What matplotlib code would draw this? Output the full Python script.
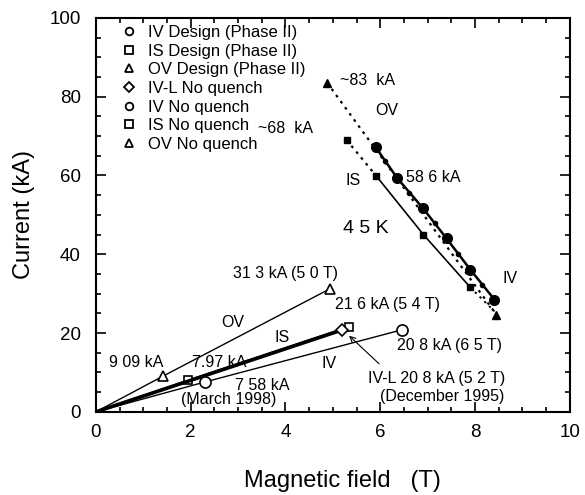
import matplotlib.pyplot as plt
import matplotlib.ticker as ticker

plt.rcParams['font.family'] = ['Liberation Sans', 'DejaVu Sans']

# load lines (from origin)
ov_load_b = [0, 1.42, 4.95]
ov_load_i = [0, 9.09, 31.3]
is_load_b = [0, 1.95, 5.35]
is_load_i = [0, 7.97, 21.6]
ivl_load_b = [0, 5.2]
ivl_load_i = [0, 20.8]
iv_load_b = [0, 2.3, 6.45]
iv_load_i = [0, 7.58, 20.8]

# critical current lines (4.5 K)
ov_crit_b = [4.88, 8.45]
ov_crit_i = [83.5, 24.7]
is_dot_b = [5.29, 5.92]
is_dot_i = [69.0, 59.8]
is_crit_b = [5.92, 6.91, 7.9]
is_crit_i = [59.8, 45.0, 31.6]
is_tail_b = [7.9, 8.41]
is_tail_i = [31.6, 25.5]
iv_crit_b = [5.9, 6.36, 6.9, 7.4, 7.9, 8.41]
iv_crit_i = [67.2, 59.3, 51.7, 44.0, 36.1, 28.5]
iv_mid_b = [6.1, 6.6, 7.15, 7.65, 8.15]
iv_mid_i = [63.6, 55.5, 48.0, 40.0, 32.3]

legend_labels = ['IV Design (Phase II)', 'IS Design (Phase II)', 'OV Design (Phase II)',
                 'IV-L No quench', 'IV No quench', 'IS No quench', 'OV No quench']
legend_markers = ['o', 's', '^', 'D', 'o', 's', '^']

fig = plt.figure(figsize=(5.85, 4.95), dpi=100)
ax = fig.add_axes([0.164, 0.168, 0.81, 0.796])

# load lines
ax.plot(ov_load_b, ov_load_i, color='black', lw=1.0)
ax.plot(ov_load_b[1:], ov_load_i[1:], ls='none', marker='^', ms=7, mfc='white', mec='black', mew=1.2)
ax.plot(is_load_b, is_load_i, color='black', lw=1.6)
ax.plot(is_load_b[1:], is_load_i[1:], ls='none', marker='s', ms=6, mfc='white', mec='black', mew=1.2)
ax.plot(ivl_load_b, ivl_load_i, color='black', lw=2.6)
ax.plot(ivl_load_b[1:], ivl_load_i[1:], ls='none', marker='D', ms=6, mfc='white', mec='black', mew=1.2)
ax.plot(iv_load_b, iv_load_i, color='black', lw=1.0)
ax.plot(iv_load_b[1:], iv_load_i[1:], ls='none', marker='o', ms=8, mfc='white', mec='black', mew=1.2)

# critical current lines
ax.plot(ov_crit_b, ov_crit_i, color='black', lw=1.6, ls=(0, (1.2, 2.2)))
ax.plot(ov_crit_b, ov_crit_i, ls='none', marker='^', ms=6, color='black')
ax.plot(is_dot_b, is_dot_i, color='black', lw=1.6, ls=(0, (1.2, 2.2)))
ax.plot(is_dot_b[:1], is_dot_i[:1], ls='none', marker='s', ms=5, color='black')
ax.plot(is_crit_b, is_crit_i, color='black', lw=1.2, marker='s', ms=5)
ax.plot(is_tail_b, is_tail_i, color='black', lw=1.4, ls=(0, (1.2, 2.2)))
ax.plot(iv_crit_b, iv_crit_i, color='black', lw=1.8, marker='o', ms=7)
ax.plot(iv_mid_b, iv_mid_i, ls='none', marker='o', ms=3, color='black')

# legend
for lab, mk in zip(legend_labels, legend_markers):
    ax.plot([], [], ls='none', marker=mk, ms=5.5, mfc='white', mec='black', mew=1.3, label=lab)
ax.legend(loc='upper left', frameon=False, fontsize=12, handlelength=1.0, handletextpad=0.6,
          labelspacing=0.22, borderaxespad=0, borderpad=0, bbox_to_anchor=(0.053, 0.982))

# annotations
fs = 11.5
ax.text(5.15, 84, '~83  kA', fontsize=fs, va='center')
ax.text(5.9, 76.5, 'OV', fontsize=fs, va='center')
ax.text(4.0, 72, '~68  kA', fontsize=fs, va='center', ha='center')
ax.text(6.55, 59.5, '58 6 kA', fontsize=fs, va='center')
ax.text(5.43, 58.8, 'IS', fontsize=fs, va='center', ha='center')
ax.text(5.7, 46.5, '4 5 K', fontsize=14, va='center', ha='center')
ax.text(8.75, 33.8, 'IV', fontsize=fs, va='center', ha='center')
ax.text(4.0, 35.2, '31 3 kA (5 0 T)', fontsize=fs, va='center', ha='center')
ax.text(2.88, 22.6, 'OV', fontsize=fs, va='center', ha='center')
ax.text(3.93, 18.8, 'IS', fontsize=fs, va='center', ha='center')
ax.text(4.93, 12.2, 'IV', fontsize=fs, va='center', ha='center')
ax.text(0.85, 12.6, '9 09 kA', fontsize=fs, va='center', ha='center')
ax.text(2.6, 12.6, '7.97 kA', fontsize=fs, va='center', ha='center')
ax.text(3.5, 6.7, '7 58 kA', fontsize=fs, va='center', ha='center')
ax.text(2.8, 3.2, '(March 1998)', fontsize=fs, va='center', ha='center')
ax.text(6.15, 27.3, '21 6 kA (5 4 T)', fontsize=fs, va='center', ha='center')
ax.text(7.46, 16.8, '20 8 kA (6 5 T)', fontsize=fs, va='center', ha='center')
ax.text(7.18, 8.5, 'IV-L 20 8 kA (5 2 T)', fontsize=fs, va='center', ha='center')
ax.text(7.3, 4.0, '(December 1995)', fontsize=fs, va='center', ha='center')
ax.annotate('', xy=(5.3, 19.8), xytext=(6.02, 11.7),
            arrowprops=dict(arrowstyle='->', color='black', lw=0.8))

ax.set_xlim(0, 10)
ax.set_ylim(0, 100)
ax.xaxis.set_major_locator(ticker.MultipleLocator(2))
ax.xaxis.set_minor_locator(ticker.MultipleLocator(0.5))
ax.yaxis.set_major_locator(ticker.MultipleLocator(20))
ax.yaxis.set_minor_locator(ticker.MultipleLocator(5))
ax.tick_params(which='both', direction='in', top=True, right=True, labelsize=13.5, width=1.2)
ax.tick_params(which='major', length=7)
ax.tick_params(axis='x', which='major', pad=9)
ax.tick_params(axis='y', which='major', pad=11)
ax.tick_params(which='minor', length=3.5)
for s in ax.spines.values():
    s.set_linewidth(1.5)

ax.set_xlabel('Magnetic field   (T)', fontsize=17)
ax.set_ylabel('Current (kA)', fontsize=17, labelpad=10)
ax.xaxis.set_label_coords(0.52, -0.148)

fig.savefig('out.png', dpi=100)
